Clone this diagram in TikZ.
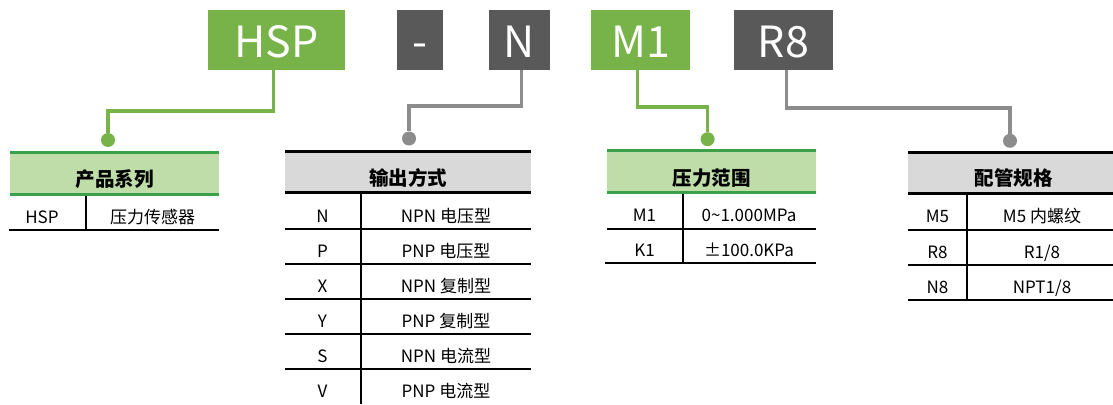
\documentclass[tikz,border=0pt]{standalone}
\usepackage{fontspec}
\setmainfont{Noto Sans CJK SC}
\usetikzlibrary{calc}
\definecolor{boxgreen}{RGB}{120,179,74}
\definecolor{boxgray}{RGB}{89,89,89}
\definecolor{conngray}{RGB}{140,140,140}
\definecolor{linegreen}{RGB}{58,160,74}
\definecolor{fillgreen}{RGB}{190,221,168}
\definecolor{fillgray}{RGB}{217,217,217}
\tikzset{
  topbox/.style={inner sep=0pt, minimum height=60pt, text height=36pt, text depth=0pt,
    text=white, font=\fontsize{43}{43}\selectfont},
  gbox/.style={topbox, fill=boxgreen},
  dbox/.style={topbox, fill=boxgray},
  gconn/.style={draw=boxgreen, line width=3.5pt},
  dconn/.style={draw=conngray, line width=3.5pt},
  gdot/.style={circle, fill=boxgreen, inner sep=0pt, minimum size=14pt},
  ddot/.style={circle, fill=conngray, inner sep=0pt, minimum size=14pt},
  ttl/.style={anchor=base, inner sep=0pt, font=\fontsize{19.5}{20}\bfseries\selectfont},
  cell/.style={anchor=base, inner sep=0pt, font=\fontsize{17}{17}\selectfont},
  heavy/.style={line width=3pt, draw=black},
  thin/.style={line width=2pt, draw=black},
  gline/.style={line width=3pt, draw=linegreen},
  vline/.style={line width=2.2pt, draw=black},
}
\begin{document}
\begin{tikzpicture}[x=1pt,y=-1pt]
\useasboundingbox (0,0) rectangle (1113,404);
% top code boxes
\node[gbox, minimum width=136.4pt] (hsp) at (276.5,40) {HSP};
\node[dbox, minimum width=46pt] (dash) at (419.7,40) {-};
\node[dbox, minimum width=61pt] (nn) at (519.5,40) {N};
\node[gbox, minimum width=99pt] (m1) at (640.5,40) {M1};
\node[dbox, minimum width=98.7pt] (r8) at (783.3,40) {R8};
% dots
\node[gdot] (dot1) at (108,140) {};
\node[ddot] (dot2) at (409,138.5) {};
\node[gdot] (dot3) at (707.6,139.2) {};
\node[ddot] (dot4) at (1010,140.8) {};
% connectors
\draw[gconn] ([xshift=-2.8pt]hsp.south) -- ++(0,41) -| (dot1);
\draw[dconn] ([xshift=2.2pt]nn.south) -- ++(0,36) -| (dot2);
\draw[gconn] ([xshift=-3pt]m1.south) -- ++(0,37) -| (dot3);
\draw[dconn] ([xshift=3pt]r8.south) -- ++(0,37.7) -| (dot4);

% ---------- table 1 ----------
\fill[fillgreen] (10,152.5) rectangle (219,194.2);
\draw[gline] (10,152.5) -- (219,152.5);
\draw[gline] (10,194.2) -- (219,194.2);
\draw[thin] (9,229.7) -- (219,229.7);
\draw[vline] (86,195.5) -- (86,229.7);
\node[ttl] (t1h) at (114.5,186) {产品系列};
\node[cell] (t1a) at (42,223.3) {HSP};
\node[cell] (t1b) at (152.5,223.3) {压力传感器};

% ---------- table 2 ----------
\fill[fillgray] (285,151.7) rectangle (531,192.4);
\draw[heavy] (285,151.7) -- (531,151.7);
\draw[heavy] (285,192.4) -- (531,192.4);
\foreach \yy in {229.3,264.2,299.1,334,369}
  \draw[thin] (285,\yy) -- (531,\yy);
\draw[vline] (360.7,192.4) -- (360.7,404);
\node[ttl] (t2h) at (408,185.5) {输出方式};
\foreach \i/\a/\b in {0/N/NPN 电压型,1/P/PNP 电压型,2/X/NPN 复制型,3/Y/PNP 复制型,4/S/NPN 电流型,5/V/PNP 电流型}{
  \node[cell] (t2a\i) at (322.5,222.7+34.95*\i) {\a};
  \node[cell] (t2b\i) at (446,222.7+34.95*\i) {\b};
}

% ---------- table 3 ----------
\fill[fillgreen] (607,150.5) rectangle (815.7,192.5);
\draw[gline] (607,150.5) -- (815.7,150.5);
\draw[gline] (607,192.5) -- (815.7,192.5);
\draw[thin] (607,228.5) -- (815.7,228.5);
\draw[thin] (605,262.9) -- (815.7,262.9);
\draw[vline] (682.7,193.8) -- (682.7,262.9);
\node[ttl] (t3h) at (711.5,185) {压力范围};
\node[cell] (t3a0) at (644.5,221) {M1};
\node[cell] (t3b0) at (749,221) {0\char"7E 1.000MPa};
\node[cell] (t3a1) at (644.5,256.7) {K1};
\node[cell] (t3b1) at (749,256.7) {±100.0KPa};

% ---------- table 4 ----------
\fill[fillgray] (908.3,152.3) rectangle (1113,193.5);
\draw[heavy] (908.3,152.3) -- (1113,152.3);
\draw[heavy] (908.3,193.5) -- (1113,193.5);
\draw[thin] (908.3,230) -- (1113,230);
\draw[thin] (908.3,265) -- (1113,265);
\draw[thin] (907.7,300.2) -- (1113,300.2);
\draw[vline] (967.3,193.5) -- (967.3,300.2);
\node[ttl] (t4h) at (1013.5,185.5) {配管规格};
\node[cell] (t4a0) at (937.5,222.7) {M5};
\node[cell] (t4b0) at (1042,222.7) {M5 内螺纹};
\node[cell] (t4a1) at (937.5,258) {R8};
\node[cell] (t4b1) at (1042,258) {R1/8};
\node[cell] (t4a2) at (937.5,293.2) {N8};
\node[cell] (t4b2) at (1042,293.2) {NPT1/8};
\end{tikzpicture}
\end{document}
